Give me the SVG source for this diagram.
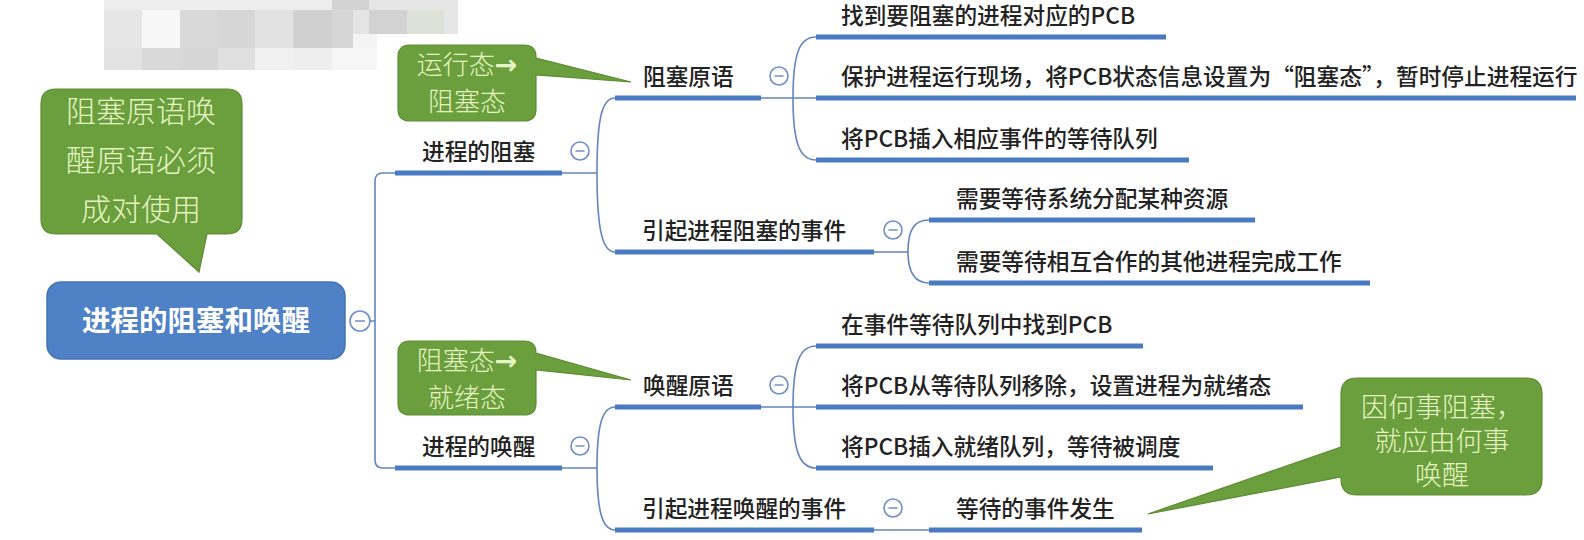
<svg xmlns="http://www.w3.org/2000/svg" width="1584" height="540" viewBox="0 0 1584 540">
<defs>
<style>
.bg{fill:#ffffff}
.t{font-family:"Noto Sans CJK SC","Noto Sans",sans-serif;font-size:22.7px;fill:#222222;font-weight:500}
.root{fill:#4f81c6;stroke:#4774b5;stroke-width:1.5}
.rt{font-family:"Noto Sans CJK SC","Noto Sans",sans-serif;font-size:28.5px;fill:#ffffff;font-weight:700}
.ul{stroke:#4a7ac2;stroke-width:5;stroke-linecap:butt;fill:none}
.cn{stroke:#6384c2;stroke-width:1.6;fill:none}
.cb{fill:#ffffff;stroke:#6f8fca;stroke-width:1.6}
.cm{stroke:#7d96c8;stroke-width:1.6}
.bub{fill:#6b9e3c;stroke:#5d8c32;stroke-width:1.2}
.bt{font-family:"Noto Sans CJK SC",sans-serif;fill:#e6f5c4;font-weight:300;text-anchor:middle}
.b30{font-size:30px}
.b27{font-size:27px}
.b26{font-size:26px}
.ar{font-family:"DejaVu Sans",sans-serif;font-size:27px;font-weight:700}
</style>
</defs>
<rect class="bg" x="0" y="0" width="1584" height="540"/>

<!-- blurred mosaic patch -->
<g id="mosaic">
<rect x="104" y="0" width="228" height="10" fill="#eeeeee"/>
<rect x="332" y="0" width="37" height="10" fill="#d2d2d2"/>
<rect x="369" y="0" width="89" height="10" fill="#e6e6e6"/>
<rect x="104" y="10" width="38" height="38" fill="#e6e6e6"/>
<rect x="142" y="10" width="38" height="38" fill="#f7f7f7"/>
<rect x="180" y="10" width="38" height="38" fill="#d9d9d9"/>
<rect x="218" y="10" width="37" height="38" fill="#d6d6d6"/>
<rect x="255" y="10" width="38" height="38" fill="#e2e2e2"/>
<rect x="293" y="10" width="39" height="38" fill="#d0d0d0"/>
<rect x="332" y="10" width="21" height="38" fill="#d6d6d6"/>
<rect x="353" y="10" width="16" height="24" fill="#e4e4e4"/>
<rect x="369" y="10" width="38" height="24" fill="#d2d2d2"/>
<rect x="407" y="10" width="37" height="24" fill="#dde1d8"/>
<rect x="444" y="10" width="14" height="24" fill="#e6e6e6"/>
<rect x="353" y="34" width="24" height="14" fill="#f4f4f4"/>
<rect x="104" y="48" width="38" height="22" fill="#e3e3e3"/>
<rect x="142" y="48" width="38" height="22" fill="#d9d9d9"/>
<rect x="180" y="48" width="38" height="22" fill="#d6d6d6"/>
<rect x="218" y="48" width="37" height="22" fill="#e0e0e0"/>
<rect x="255" y="48" width="38" height="22" fill="#f1f1f1"/>
<rect x="293" y="48" width="39" height="22" fill="#eeeeee"/>
<rect x="332" y="48" width="45" height="22" fill="#f6f6f6"/>
</g>

<!-- connectors -->
<g id="connectors">
<path class="cn" d="M370 321 H375 M395 173 H383 Q375 173 375 181 V460 Q375 468 383 468 H395"/>
<path class="cn" d="M562 173 H597 M597 173 C597 118 602 98 615 98 M597 173 C597 228 602 252 615 252"/>
<path class="cn" d="M562 468 H597 M597 468 C597 426 602 407 615 407 M597 468 C597 510 602 530 615 530"/>
<path class="cn" d="M761 98 H816 M793 98 C793 52 800 37 816 37 M793 98 C793 144 800 160 816 160"/>
<path class="cn" d="M874 252 H908 M908 252 C908 230 914 220 929 220 M908 252 C908 272 914 283 929 283"/>
<path class="cn" d="M761 407 H816 M793 407 C793 362 800 346 816 346 M793 407 C793 452 800 468 816 468"/>
<path class="cn" d="M874 530 H929"/>
<g>
<line class="ul" x1="395" y1="173" x2="562" y2="173"/>
<line class="ul" x1="395" y1="468" x2="562" y2="468"/>
<line class="ul" x1="615" y1="98" x2="761" y2="98"/>
<line class="ul" x1="615" y1="252" x2="874" y2="252"/>
<line class="ul" x1="615" y1="407" x2="761" y2="407"/>
<line class="ul" x1="615" y1="530" x2="874" y2="530"/>
<line class="ul" x1="816" y1="37" x2="1166" y2="37"/>
<line class="ul" x1="816" y1="98" x2="1576" y2="98"/>
<line class="ul" x1="816" y1="160" x2="1189" y2="160"/>
<line class="ul" x1="929" y1="220" x2="1255" y2="220"/>
<line class="ul" x1="929" y1="283" x2="1370" y2="283"/>
<line class="ul" x1="816" y1="346" x2="1143" y2="346"/>
<line class="ul" x1="816" y1="407" x2="1303" y2="407"/>
<line class="ul" x1="816" y1="468" x2="1213" y2="468"/>
<line class="ul" x1="929" y1="530" x2="1142" y2="530"/>
</g>
</g>

<!-- root -->
<g id="root">
<rect class="root" x="47" y="282" width="298" height="77" rx="14"/>
<text class="rt" x="196" y="331" text-anchor="middle">进程的阻塞和唤醒</text>
<circle class="cb" cx="360" cy="321" r="10"/><line class="cm" x1="355" y1="321" x2="365" y2="321"/>
</g>

<g id="n-block">
<text class="t" x="422" y="160">进程的阻塞</text>
<circle class="cb" cx="580" cy="151" r="9"/><line class="cm" x1="575.5" y1="151" x2="584.5" y2="151"/>
</g>
<g id="n-wake">
<text class="t" x="422" y="455">进程的唤醒</text>
<circle class="cb" cx="580" cy="446" r="9"/><line class="cm" x1="575.5" y1="446" x2="584.5" y2="446"/>
</g>
<g id="n-block-prim">
<text class="t" x="643" y="85">阻塞原语</text>
<circle class="cb" cx="779" cy="76" r="9"/><line class="cm" x1="774.5" y1="76" x2="783.5" y2="76"/>
</g>
<g id="n-block-event">
<text class="t" x="642" y="239">引起进程阻塞的事件</text>
<circle class="cb" cx="893" cy="230" r="9"/><line class="cm" x1="888.5" y1="230" x2="897.5" y2="230"/>
</g>
<g id="n-wake-prim">
<text class="t" x="643" y="394">唤醒原语</text>
<circle class="cb" cx="779" cy="385" r="9"/><line class="cm" x1="774.5" y1="385" x2="783.5" y2="385"/>
</g>
<g id="n-wake-event">
<text class="t" x="642" y="517">引起进程唤醒的事件</text>
<circle class="cb" cx="893" cy="508" r="9"/><line class="cm" x1="888.5" y1="508" x2="897.5" y2="508"/>
</g>

<g id="leaf1"><text class="t" x="841" y="24">找到要阻塞的进程对应的PCB</text></g>
<g id="leaf2"><text class="t" x="841" y="85">保护进程运行现场，将PCB状态信息设置为“阻塞态”，暂时停止进程运行</text></g>
<g id="leaf3"><text class="t" x="841" y="147">将PCB插入相应事件的等待队列</text></g>
<g id="leaf4"><text class="t" x="956" y="207">需要等待系统分配某种资源</text></g>
<g id="leaf5"><text class="t" x="956" y="270">需要等待相互合作的其他进程完成工作</text></g>
<g id="leaf6"><text class="t" x="841" y="333">在事件等待队列中找到PCB</text></g>
<g id="leaf7"><text class="t" x="841" y="394">将PCB从等待队列移除，设置进程为就绪态</text></g>
<g id="leaf8"><text class="t" x="841" y="455">将PCB插入就绪队列，等待被调度</text></g>
<g id="leaf9"><text class="t" x="956" y="517">等待的事件发生</text></g>

<!-- callouts -->
<g id="callout-pair">
<path class="bub" d="M56 89 H227 Q242 89 242 104 V219 Q242 234 227 234 H207 L199 272 L157 234 H56 Q41 234 41 219 V104 Q41 89 56 89 Z"/>
<text class="bt b30" x="141" y="122">阻塞原语唤</text>
<text class="bt b30" x="141" y="171">醒原语必须</text>
<text class="bt b30" x="141" y="220">成对使用</text>
</g>
<g id="callout-run-block">
<path class="bub" d="M410 45 H524 Q536 45 536 57 V58 L631 82 L536 75 V109 Q536 121 524 121 H410 Q398 121 398 109 V57 Q398 45 410 45 Z"/>
<text class="bt b26" x="467" y="74">运行态<tspan class="ar">→</tspan></text>
<text class="bt b26" x="467" y="111">阻塞态</text>
</g>
<g id="callout-block-ready">
<path class="bub" d="M410 341 H524 Q536 341 536 353 V353 L631 380 L536 370 V403 Q536 415 524 415 H410 Q398 415 398 403 V353 Q398 341 410 341 Z"/>
<text class="bt b26" x="467" y="370">阻塞态<tspan class="ar">→</tspan></text>
<text class="bt b26" x="467" y="407">就绪态</text>
</g>
<g id="callout-cause">
<path class="bub" d="M1357 378 H1526 Q1542 378 1542 394 V479 Q1542 495 1526 495 H1357 Q1341 495 1341 479 V477 L1148 514 L1341 447 V394 Q1341 378 1357 378 Z"/>
<text class="bt b27" x="1442" y="417">因何事阻塞，</text>
<text class="bt b27" x="1442" y="451">就应由何事</text>
<text class="bt b27" x="1442" y="485">唤醒</text>
</g>
</svg>
